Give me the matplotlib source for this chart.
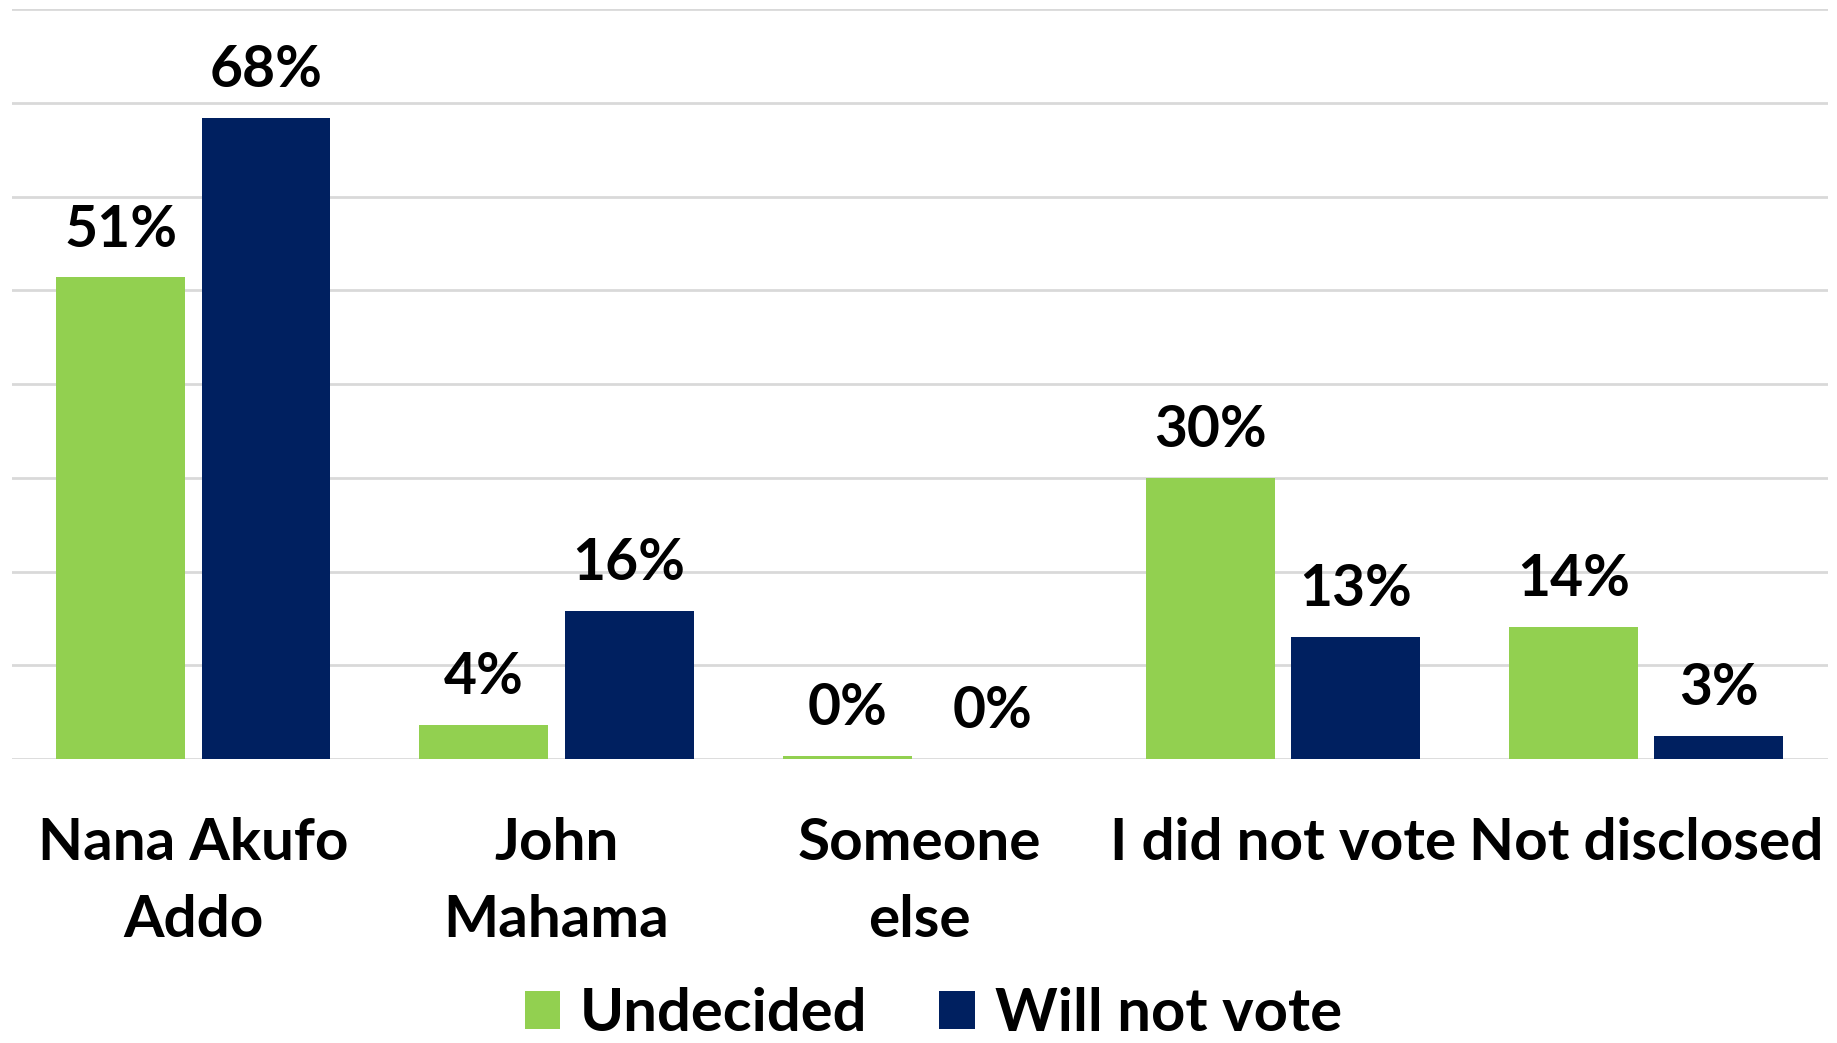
import matplotlib.pyplot as plt
import numpy as np

# Survey data (percent)
categories = ["Nana Akufo\nAddo", "John\nMahama", "Someone\nelse", "I did not vote", "Not disclosed"]
undecided = [51.4, 3.6, 0.3, 30.0, 14.1]
will_not_vote = [68.4, 15.8, 0.0, 13.0, 2.5]
undecided_labels = ["51%", "4%", "0%", "30%", "14%"]
will_not_labels = ["68%", "16%", "0%", "13%", "3%"]

green = "#92d050"
navy = "#002060"
font = "Lato"

fig = plt.figure(figsize=(18.37, 10.43), dpi=100)
ax = fig.add_axes([0.0064, 0.2723, 0.9886, 0.7187])

x = np.arange(len(categories))
w = 0.355
off = 0.2
ax.bar(x - off, undecided, w, color=green, label="Undecided", zorder=3)
ax.bar(x + off, will_not_vote, w, color=navy, label="Will not vote", zorder=3)

for xi, v, t in zip(x, undecided, undecided_labels):
    ax.annotate(t, (xi - off, v), xytext=(0, 15), textcoords="offset points",
                ha="center", va="bottom", fontsize=41, fontweight="bold", family=font)
for xi, v, t in zip(x, will_not_vote, will_not_labels):
    ax.annotate(t, (xi + off, v), xytext=(0, 15), textcoords="offset points",
                ha="center", va="bottom", fontsize=41, fontweight="bold", family=font)

ax.set_xlim(-0.5, len(categories) - 0.5)
ax.set_ylim(0, 80)
ax.set_yticks(np.arange(0, 81, 10))
ax.yaxis.grid(True, color="#d9d9d9", linewidth=2, zorder=0)
ax.tick_params(axis="y", left=False, labelleft=False)
ax.tick_params(axis="x", length=0, pad=42)
ax.set_xticks(x)
ax.set_xticklabels(categories, fontsize=42, fontweight="bold", family=font, linespacing=1.55)
for s in ax.spines.values():
    s.set_visible(False)

fig.legend(loc="lower center", bbox_to_anchor=(0.508, 0.002), ncol=2, frameon=False,
           prop={"family": font, "weight": "bold", "size": 43},
           borderpad=0, borderaxespad=0,
           handlelength=0.6, handleheight=0.6, handletextpad=0.33, columnspacing=1.2)

fig.savefig("out.png", dpi=100)
